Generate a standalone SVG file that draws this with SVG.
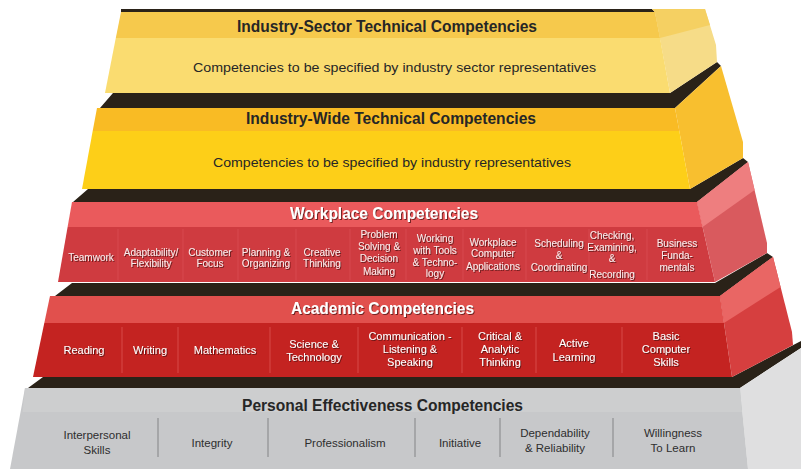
<svg xmlns="http://www.w3.org/2000/svg" width="801" height="469" viewBox="0 0 801 469">
<defs>
<filter id="sh" x="-10%" y="-30%" width="120%" height="160%">
<feDropShadow dx="1" dy="1" stdDeviation="0.6" flood-color="#4a0c0c" flood-opacity="0.75"/>
</filter>
<style>
.dark{fill:#2a2218}
.t{font-family:"Liberation Sans",Arial,sans-serif;text-anchor:middle}
.tb{font-weight:bold}
.dk{fill:#262626}
.wt{fill:#ffffff}
.wi{fill:#fbecec;font-size:10px}
.ai{fill:#ffffff;font-size:11px}
.pi{fill:#2e2e2e;font-size:11.5px}
.sepw{stroke:#dd5258;stroke-width:1;opacity:0.6}
.sepa{stroke:#e05a58;stroke-width:1;opacity:0.7}
.sepp{stroke:#9a9b9d;stroke-width:1.5}
</style>
</defs>
<rect width="801" height="469" fill="#ffffff"/>

<g id="tier-personal">
<polygon class="dark" points="43,377 732,377 801,341 801,348 740,388 28,388"/>
<polygon fill="#dfdfe0" points="740,388 801,348 801,469 748,469"/>
<polygon fill="#c7c8ca" points="25,388 740,388 748,469 10,469"/>
<polygon fill="#cdcecf" points="25,388 740,388 742,412 22.6,412"/>
<text class="t tb dk" x="382.5" y="410.5" font-size="16" textLength="281" lengthAdjust="spacingAndGlyphs">Personal Effectiveness Competencies</text>
<g id="personal-separators">
<line class="sepp" x1="158" y1="418" x2="158" y2="457"/>
<line class="sepp" x1="268" y1="418" x2="268" y2="457"/>
<line class="sepp" x1="415" y1="418" x2="415" y2="457"/>
<line class="sepp" x1="500" y1="418" x2="500" y2="457"/>
<line class="sepp" x1="613" y1="418" x2="613" y2="457"/>
</g>
<text class="t pi" x="97" y="439">Interpersonal</text>
<text class="t pi" x="97" y="454">Skills</text>
<text class="t pi" x="212" y="447">Integrity</text>
<text class="t pi" x="345" y="447">Professionalism</text>
<text class="t pi" x="460" y="447">Initiative</text>
<text class="t pi" x="555" y="437">Dependability</text>
<text class="t pi" x="555" y="452">&amp; Reliability</text>
<text class="t pi" x="673" y="437">Willingness</text>
<text class="t pi" x="673" y="452">To Learn</text>
</g>

<g id="tier-academic">
<polygon class="dark" points="72,283 715,283 767,253 773,257 720,296 55,296"/>
<polygon fill="#d63f3f" points="720,296 773,257 792,332 793,345 732,377"/>
<polygon fill="#e96664" points="720,296 773,257 780.6,287 724,323"/>
<polygon fill="#c42321" points="44.3,323 724,323 732,377 33,377"/>
<polygon fill="#e1504d" points="50,296 720,296 724,323 44.3,323"/>
<text class="t tb wt" x="382.5" y="314" font-size="16" textLength="183" lengthAdjust="spacingAndGlyphs" filter="url(#sh)">Academic Competencies</text>
<g id="academic-separators">
<line class="sepa" x1="122" y1="327" x2="122" y2="373"/>
<line class="sepa" x1="178" y1="327" x2="178" y2="373"/>
<line class="sepa" x1="270" y1="327" x2="270" y2="373"/>
<line class="sepa" x1="358" y1="327" x2="358" y2="373"/>
<line class="sepa" x1="462" y1="327" x2="462" y2="373"/>
<line class="sepa" x1="536" y1="327" x2="536" y2="373"/>
<line class="sepa" x1="622" y1="327" x2="622" y2="373"/>
</g>
<g filter="url(#sh)">
<text class="t ai" x="84" y="354">Reading</text>
<text class="t ai" x="150" y="354">Writing</text>
<text class="t ai" x="225" y="354">Mathematics</text>
<text class="t ai" x="314" y="348">Science &amp;</text>
<text class="t ai" x="314" y="361">Technology</text>
<text class="t ai" x="410" y="340">Communication -</text>
<text class="t ai" x="410" y="353">Listening &amp;</text>
<text class="t ai" x="410" y="366">Speaking</text>
<text class="t ai" x="500" y="340">Critical &amp;</text>
<text class="t ai" x="500" y="353">Analytic</text>
<text class="t ai" x="500" y="366">Thinking</text>
<text class="t ai" x="574" y="347">Active</text>
<text class="t ai" x="574" y="361">Learning</text>
<text class="t ai" x="666" y="340">Basic</text>
<text class="t ai" x="666" y="353">Computer</text>
<text class="t ai" x="666" y="366">Skills</text>
</g>
</g>

<g id="tier-workplace">
<polygon class="dark" points="88,189 690,189 743,158 748,162 697,202 73,202"/>
<polygon fill="#d95a5e" points="697,202 748,162 767,243 767,253 715,282"/>
<polygon fill="#ee7e7f" points="697,202 748,162 754.6,190 702.6,227"/>
<polygon fill="#cf3b40" points="67.6,227 702.6,227 715,282 58,282"/>
<polygon fill="#ea5a5c" points="72,202 697,202 702.6,227 67.6,227"/>
<text class="t tb wt" x="384" y="218.5" font-size="16" textLength="188" lengthAdjust="spacingAndGlyphs" filter="url(#sh)">Workplace Competencies</text>
<g id="workplace-separators">
<line class="sepw" x1="118" y1="229" x2="118" y2="280"/>
<line class="sepw" x1="183" y1="229" x2="183" y2="280"/>
<line class="sepw" x1="238" y1="229" x2="238" y2="280"/>
<line class="sepw" x1="296" y1="229" x2="296" y2="280"/>
<line class="sepw" x1="350" y1="229" x2="350" y2="280"/>
<line class="sepw" x1="406" y1="229" x2="406" y2="280"/>
<line class="sepw" x1="463" y1="229" x2="463" y2="280"/>
<line class="sepw" x1="526" y1="229" x2="526" y2="280"/>
<line class="sepw" x1="589" y1="229" x2="589" y2="280"/>
<line class="sepw" x1="647" y1="229" x2="647" y2="280"/>
</g>
<g filter="url(#sh)">
<text class="t wi" x="91" y="260.5">Teamwork</text>
<text class="t wi" x="151" y="255.5">Adaptability/</text>
<text class="t wi" x="151" y="266.5">Flexibility</text>
<text class="t wi" x="210" y="255.5">Customer</text>
<text class="t wi" x="210" y="266.5">Focus</text>
<text class="t wi" x="266" y="255.5">Planning &amp;</text>
<text class="t wi" x="266" y="266.5">Organizing</text>
<text class="t wi" x="322" y="255.5">Creative</text>
<text class="t wi" x="322" y="266.5">Thinking</text>
<text class="t wi" x="379" y="237.5">Problem</text>
<text class="t wi" x="379" y="249.5">Solving &amp;</text>
<text class="t wi" x="379" y="261.5">Decision</text>
<text class="t wi" x="379" y="274.5">Making</text>
<text class="t wi" x="435" y="241.5">Working</text>
<text class="t wi" x="435" y="253.5">with Tools</text>
<text class="t wi" x="435" y="265.5">&amp; Techno-</text>
<text class="t wi" x="435" y="276.5">logy</text>
<text class="t wi" x="493" y="245.5">Workplace</text>
<text class="t wi" x="493" y="256.5">Computer</text>
<text class="t wi" x="493" y="269.5">Applications</text>
<text class="t wi" x="559" y="246.5">Scheduling</text>
<text class="t wi" x="559" y="258.5">&amp;</text>
<text class="t wi" x="559" y="270.5">Coordinating</text>
<text class="t wi" x="612" y="238.5">Checking,</text>
<text class="t wi" x="612" y="250.5">Examining,</text>
<text class="t wi" x="612" y="261.5">&amp;</text>
<text class="t wi" x="612" y="277.5">Recording</text>
<text class="t wi" x="677" y="246.5">Business</text>
<text class="t wi" x="677" y="258.5">Funda-</text>
<text class="t wi" x="677" y="270.5">mentals</text>
</g>
</g>

<g id="tier-industry-wide">
<polygon class="dark" points="113,93 670,93 717,62 721,66 675,108 100,108"/>
<polygon fill="#f8bf2f" points="675,108 721,66 743,142 743,158 690,189"/>
<polygon fill="#fdcf18" points="92.7,131 679.3,131 690,189 82,189"/>
<polygon fill="#f9bb24" points="97,108 675,108 679.3,131 92.7,131"/>
<text class="t tb dk" x="391" y="123.5" font-size="16" textLength="290" lengthAdjust="spacingAndGlyphs">Industry-Wide Technical Competencies</text>
<text class="t dk" x="392" y="166.5" font-size="13.5" textLength="358" lengthAdjust="spacingAndGlyphs">Competencies to be specified by industry representatives</text>
</g>

<g id="tier-industry-sector">
<polygon class="dark" points="121,9 652,9 655,12 121,12"/>
<polygon fill="#f6dc88" points="652,9 705,9 716,45 717,62 670,93 655,12"/>
<polygon fill="#f5d062" points="652,9 705,9 710,25 660,38 655,12"/>
<polygon fill="#fadc70" points="115.8,38 660,38 670,93 105,93"/>
<polygon fill="#f6c94c" points="121,12 655,12 660,38 115.8,38"/>
<text class="t tb dk" x="387" y="31.5" font-size="16" textLength="300" lengthAdjust="spacingAndGlyphs">Industry-Sector Technical Competencies</text>
<text class="t dk" x="394.5" y="71.5" font-size="13.5" textLength="403" lengthAdjust="spacingAndGlyphs">Competencies to be specified by industry sector representatives</text>
</g>

<g id="connectors"></g>
</svg>
